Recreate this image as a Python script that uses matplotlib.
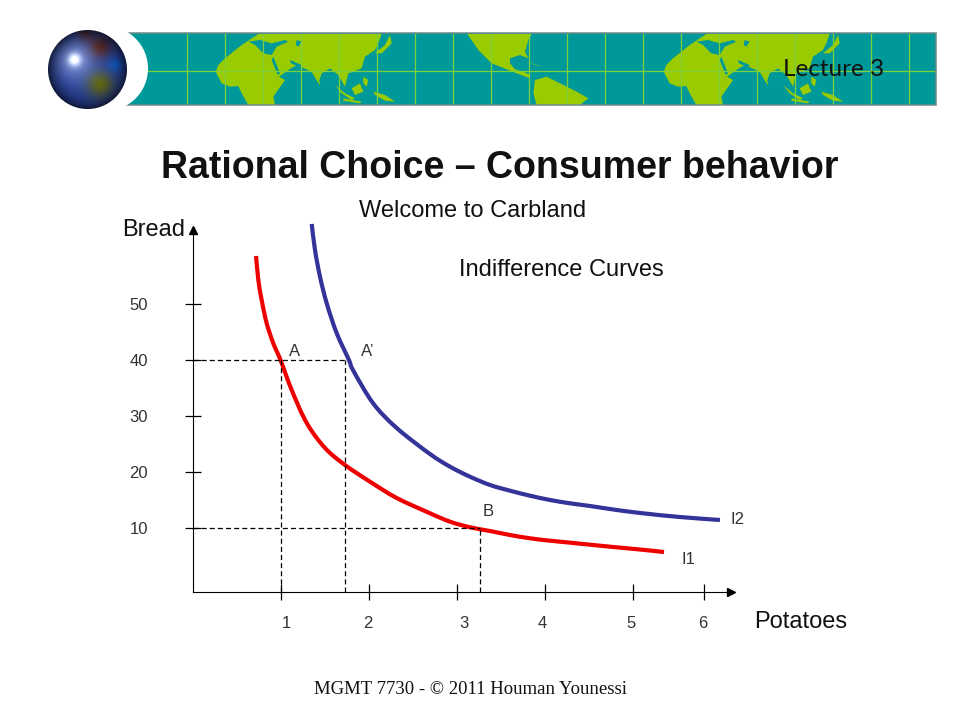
import numpy as np
from matplotlib import pyplot as plt
from matplotlib.patches import Circle, PathPatch, Polygon, Rectangle
from matplotlib.path import Path

plt.rcParams['font.family'] = ['Liberation Sans', 'DejaVu Sans']

# Indifference curves (potatoes, bread)
i1_x = [0.722, 0.748, 0.786, 0.843, 0.918, 1.0, 1.127, 1.298, 1.506, 1.733, 2.017, 2.32, 2.699, 2.926, 3.153, 3.381, 3.608, 3.835, 4.063, 4.29, 4.744, 5.085, 5.358]
i1_y = [58.57, 54.29, 50.71, 46.55, 42.98, 40.0, 34.64, 28.75, 24.29, 21.25, 18.27, 15.36, 12.63, 11.13, 10.13, 9.46, 8.75, 8.16, 7.73, 7.38, 6.66, 6.16, 5.71]
i2_x = [1.355, 1.392, 1.449, 1.525, 1.639, 1.778, 1.824, 2.051, 2.32, 2.699, 2.926, 3.153, 3.381, 3.608, 3.835, 4.063, 4.29, 4.517, 4.744, 5.085, 5.54, 5.994]
i2_y = [64.29, 59.64, 54.88, 50.13, 44.77, 40.0, 38.2, 32.3, 27.86, 23.21, 20.95, 19.16, 17.68, 16.66, 15.77, 15.0, 14.41, 13.93, 13.39, 12.68, 11.96, 11.43]

# Ticks (the 6 sits closer to the 5 in the original)
x_ticks = [1, 2, 3, 4, 5, 5.81]
x_tick_labels = ['1', '2', '3', '4', '5', '6']
x_label_pos = [1.07, 1.99, 3.08, 3.97, 4.98, 5.80]
y_ticks = [10, 20, 30, 40, 50]

# Guide lines
a_x, a_prime_x, b_x = 1.0, 1.73, 3.27
a_y, b_y = 40, 10

africa_asia = [(160, 12), (110, 45), (60, 85), (40, 105), (32, 125), (50, 160), (75, 170), (100, 168), (110, 190),
               (130, 225), (210, 225), (205, 200), (240, 150), (222, 140), (250, 120), (275, 105), (320, 125),
               (340, 160), (350, 130), (375, 115), (400, 135), (420, 170), (430, 130), (470, 115), (480, 80),
               (510, 60), (520, 40), (530, 12)]
water = [[(130, 35), (165, 30), (200, 40), (240, 30), (250, 35), (215, 50), (200, 75), (175, 70), (150, 45)],
         [(205, 80), (225, 130), (218, 135), (200, 90)],
         [(255, 90), (290, 105), (285, 112), (258, 100)],
         [(275, 30), (290, 35), (280, 50), (272, 45)]]
islands = [[(390, 165), (420, 190), (450, 205), (440, 210), (410, 190)],
           [(440, 175), (465, 160), (475, 185), (450, 195)],
           [(505, 185), (540, 195), (570, 215), (540, 212), (510, 195)],
           [(475, 140), (490, 150), (485, 170), (475, 160)],
           [(510, 70), (540, 45), (555, 15), (560, 40), (530, 70)],
           [(182, 185), (190, 180), (188, 195), (182, 197)],
           [(340, 155), (347, 158), (342, 165)],
           [(415, 205), (470, 215), (465, 220), (415, 212)]]
north_america = [(22, 12), (55, 60), (95, 100), (170, 130), (210, 145), (210, 135), (190, 125), (165, 118), (150, 100),
                 (150, 85), (180, 75), (205, 85), (195, 65), (205, 30), (215, 12)]
south_america = [(225, 150), (260, 140), (300, 160), (350, 185), (385, 205), (360, 225), (230, 225), (220, 190)]
cuba = [(195, 95), (255, 112), (225, 105)]

fig = plt.figure(figsize=(9.6, 7.2), dpi=100)


def px_text(x, y, s, **kw):
    kw.setdefault('va', 'center')
    fig.text(x / 960, 1 - y / 720, s, **kw)


def crop_to_px(shape, x0, y0):
    return [(x0 + x / 3, y0 + y / 3) for x, y in shape]


def smooth_curve(xs, ys, **kw):
    # curved segments through the read points
    pts = np.column_stack([xs, ys])
    verts = [pts[0]]
    codes = [Path.MOVETO]
    for i in range(len(pts) - 1):
        before = pts[max(i - 1, 0)]
        after = pts[min(i + 2, len(pts) - 1)]
        verts += [pts[i] + (pts[i + 1] - before) / 6, pts[i + 1] - (after - pts[i]) / 6, pts[i + 1]]
        codes += [Path.CURVE4] * 3
    return PathPatch(Path(verts, codes), fill=False, **kw)


# ---- banner, drawn in pixel coordinates ----
top = fig.add_axes([0, 0, 1, 1], zorder=1)
top.axis('off')

teal = '#009999'
land = '#99cc00'
grid = '#7fd03a'
top.add_patch(Rectangle((127, 33), 809, 72, fc=teal, ec='none'))

for shift in [0, 448]:
    for shape in [africa_asia] + islands:
        top.add_patch(Polygon(crop_to_px(shape, 205 + shift, 30), fc=land, ec='none', zorder=2))
    for shape in water:
        top.add_patch(Polygon(crop_to_px(shape, 205 + shift, 30), fc=teal, ec='none', zorder=2.5))
for shape in [north_america, south_america, cuba]:
    top.add_patch(Polygon(crop_to_px(shape, 460, 30), fc=land, ec='none', zorder=2))

for gx in range(187, 936, 38):
    top.plot([gx, gx], [34, 104], color=grid, lw=0.9, zorder=3)
top.plot([127, 935], [71, 71], color=grid, lw=0.9, zorder=3)
top.add_patch(Rectangle((127, 33), 809, 72, fc='none', ec='#708a8a', lw=1.1, zorder=3.5))

# white crescent and globe
top.add_patch(Circle((105.6, 68.5), 42.4, fc='white', ec='none', zorder=4))
yy, xx = np.mgrid[27:111, 45:129].astype(float)
rr = np.hypot(xx - 87, yy - 69) / 40
shade = np.clip(1.0 - 0.7 * rr ** 4, 0, 1)
glow = 0.8 * np.exp(-((xx - 74) ** 2 + (yy - 59) ** 2) / 40) + 0.4 * np.exp(-((xx - 74) ** 2 + (yy - 59) ** 2) / 400)
olive = np.exp(-((xx - 100) ** 2 + (yy - 84) ** 2) / 170)
brown = np.exp(-((xx - 100) ** 2 + (yy - 46) ** 2) / 130) + 0.7 * np.exp(-((xx - 85) ** 2 + (yy - 33) ** 2) / 60)
sea = np.exp(-((xx - 115) ** 2 + (yy - 64) ** 2) / 50)
rgb = np.dstack([0.16 + 0.8 * glow + 0.22 * olive + 0.16 * brown - 0.1 * sea,
                 0.26 + 0.75 * glow + 0.14 * olive - 0.12 * brown + 0.1 * sea,
                 0.62 + 0.5 * glow - 0.55 * olive - 0.48 * brown + 0.2 * sea])
alpha = np.clip((1 - rr) * 40, 0, 1)
rgba = np.dstack([np.clip(rgb * shade[..., None], 0, 1), alpha])
top.imshow(rgba, extent=(45, 129, 111, 27), zorder=5, interpolation='bilinear', aspect='auto')
top.set_xlim(0, 960)
top.set_ylim(720, 0)

# ---- chart ----
ax = fig.add_axes([192.5 / 960, 1 - 592 / 720, (731 - 192.5) / 960, (592 - 230) / 720], zorder=2)
ax.patch.set_alpha(0)
ax.set_xlim(0, (731 - 192.5) / 88)
ax.set_ylim(-1.43, (584 - 230) / 5.6)
ax.spines['top'].set_visible(False)
ax.spines['right'].set_visible(False)
ax.set_xticks(x_ticks, [])
ax.set_yticks(y_ticks, [str(v) for v in y_ticks])
ax.tick_params(axis='both', direction='inout', length=12, width=0.9)
ax.tick_params(axis='y', pad=26, labelsize=12, labelcolor='#333333')
for pos, lab in zip(x_label_pos, x_tick_labels):
    ax.text(pos, -7.1, lab, ha='center', va='center', fontsize=12, color='#333333')
ax.plot(1, 0, '>k', ms=6, transform=ax.transAxes, clip_on=False)
ax.plot(0, 1, '^k', ms=6, transform=ax.transAxes, clip_on=False)

dash = dict(color='black', lw=0.9, ls=(0, (4, 2.5)))
ax.plot([0, a_prime_x], [a_y, a_y], **dash)
ax.plot([0, b_x], [b_y, b_y], **dash)
for vx, vy in [(a_x, a_y), (a_prime_x, a_y), (b_x, b_y)]:
    ax.plot([vx, vx], [-1.43, vy], **dash)

for xs, ys, col in [(i1_x, i1_y, '#ee0000'), (i2_x, i2_y, '#333399')]:
    ax.add_patch(smooth_curve(xs, ys, edgecolor=col, lw=3, capstyle='butt', joinstyle='round', clip_on=False))

# ---- text ----
px_text(834, 69, 'Lecture 3', ha='center', fontsize=17.5, family=['Lato', 'DejaVu Sans'], color='#111111', zorder=6)
px_text(499.5, 168, 'Rational Choice – Consumer behavior', ha='center', fontsize=27, fontweight='bold', color='#111111')
px_text(473, 211, 'Welcome to Carbland', ha='center', fontsize=17, color='#111111')
px_text(561, 270, 'Indifference Curves', ha='center', fontsize=17, color='#111111')
px_text(154, 230, 'Bread', ha='center', fontsize=17, color='#111111')
px_text(801, 622, 'Potatoes', ha='center', fontsize=17, color='#111111')
for x, y, s in [(295, 351, 'A'), (368, 351, 'A’'), (488, 511, 'B'), (737, 519, 'I2'), (688, 560, 'I1')]:
    px_text(x, y, s, ha='center', fontsize=12, color='#333333')
px_text(471, 690, 'MGMT 7730 - © 2011 Houman Younessi', ha='center', fontsize=13.5,
        family=['Liberation Serif', 'DejaVu Serif'], color='#111111')

fig.savefig('out.png', dpi=100)
